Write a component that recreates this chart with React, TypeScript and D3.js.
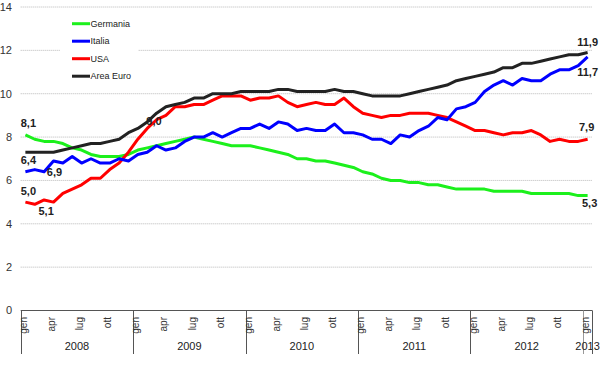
import React from 'react';
import * as d3 from 'd3';

// monthly unemployment rate, gen 2008 - gen 2013
const germania = [
  8.1, 7.9, 7.8, 7.8, 7.7, 7.5, 7.4, 7.2, 7.1, 7.1, 7.1, 7.2,
  7.4, 7.5, 7.6, 7.7, 7.8, 7.9, 8.0, 7.9, 7.8, 7.7, 7.6, 7.6,
  7.6, 7.5, 7.4, 7.3, 7.2, 7.0, 7.0, 6.9, 6.9, 6.8, 6.7, 6.6,
  6.4, 6.3, 6.1, 6.0, 6.0, 5.9, 5.9, 5.8, 5.8, 5.7, 5.6, 5.6,
  5.6, 5.6, 5.5, 5.5, 5.5, 5.5, 5.4, 5.4, 5.4, 5.4, 5.4, 5.3,
  5.3,
];
const italia = [
  6.4, 6.5, 6.4, 6.9, 6.8, 7.1, 6.8, 7.0, 6.8, 6.8, 7.0, 6.9,
  7.2, 7.3, 7.6, 7.4, 7.5, 7.8, 8.0, 8.0, 8.2, 8.0, 8.2, 8.4,
  8.4, 8.6, 8.4, 8.7, 8.6, 8.3, 8.4, 8.3, 8.3, 8.6, 8.2, 8.2,
  8.1, 7.9, 7.9, 7.7, 8.1, 8.0, 8.3, 8.5, 8.9, 8.8, 9.3, 9.4,
  9.6, 10.1, 10.4, 10.6, 10.4, 10.7, 10.6, 10.6, 10.9, 11.1, 11.1, 11.3,
  11.7,
];
const usa = [
  5.0, 4.9, 5.1, 5.0, 5.4, 5.6, 5.8, 6.1, 6.1, 6.5, 6.8, 7.3,
  7.9, 8.4, 8.8, 9.0, 9.4, 9.4, 9.5, 9.5, 9.7, 9.9, 9.9, 9.9,
  9.7, 9.8, 9.8, 9.9, 9.6, 9.4, 9.5, 9.6, 9.5, 9.5, 9.8, 9.4,
  9.1, 9.0, 8.9, 9.0, 9.0, 9.1, 9.1, 9.1, 9.0, 8.9, 8.7, 8.5,
  8.3, 8.3, 8.2, 8.1, 8.2, 8.2, 8.3, 8.1, 7.8, 7.9, 7.8, 7.8,
  7.9,
];
const areaEuro = [
  7.3, 7.3, 7.3, 7.3, 7.4, 7.5, 7.6, 7.7, 7.7, 7.8, 7.9, 8.2,
  8.4, 8.7, 9.1, 9.4, 9.5, 9.6, 9.8, 9.8, 10.0, 10.0, 10.0, 10.1,
  10.1, 10.1, 10.1, 10.2, 10.2, 10.1, 10.1, 10.1, 10.1, 10.2, 10.1, 10.1,
  10.0, 9.9, 9.9, 9.9, 9.9, 10.0, 10.1, 10.2, 10.3, 10.4, 10.6, 10.7,
  10.8, 10.9, 11.0, 11.2, 11.2, 11.4, 11.4, 11.5, 11.6, 11.7, 11.8, 11.8,
  11.9,
];

const years = ['2008', '2009', '2010', '2011', '2012', '2013'];
const monthLabels = ['gen', 'apr', 'lug', 'ott'];
const yTicks = [0, 2, 4, 6, 8, 10, 12, 14];

const series = [
  { name: 'Germania', values: germania, color: '#1cf01c' },
  { name: 'USA', values: usa, color: '#ff0000' },
  { name: 'Italia', values: italia, color: '#0000ff' },
  { name: 'Area Euro', values: areaEuro, color: '#222222' },
];
const legendOrder = ['Germania', 'Italia', 'USA', 'Area Euro'];

// point labels: series, month index, offset from the point
const pointLabels = [
  { s: 'Germania', i: 0, dx: 3, dy: -8 },
  { s: 'Italia', i: 0, dx: 3, dy: -8 },
  { s: 'Italia', i: 3, dx: 1, dy: 15 },
  { s: 'USA', i: 0, dx: 3, dy: -7 },
  { s: 'USA', i: 2, dx: 2, dy: 15 },
  { s: 'USA', i: 15, dx: -12, dy: 10 },
  { s: 'Area Euro', i: 60, dx: 0, dy: -7 },
  { s: 'Italia', i: 60, dx: 0, dy: 19 },
  { s: 'USA', i: 60, dx: -1, dy: -8 },
  { s: 'Germania', i: 60, dx: 2, dy: 11 },
];

const W = 600;
const H = 365;
const left = 20.7;
const right = 592.3;
const top = 7;
const bottom = 310.5;
const font = '"Liberation Sans", Arial, sans-serif';

const App = () => {
  const n = germania.length;
  const x = d3.scaleBand<number>().domain(d3.range(n)).range([left, right]).padding(0);
  const cx = (i: number) => (x(i) as number) + x.bandwidth() / 2;
  const y = d3.scaleLinear().domain([0, 14]).range([bottom, top]);
  const line = d3.line<number>().x((d, i) => cx(i)).y(d => y(d));
  const fmt = (v: number) => v.toFixed(1).replace('.', ',');

  return (
    <div style={{ position: 'fixed', left: 0, top: 0 }}>
      <svg width={W} height={H} style={{ display: 'block', background: '#fff' }} fontFamily={font}>
        {/* grid */}
        {yTicks.filter(t => t > 0).map(t => (
          <line key={t} x1={left} x2={right} y1={y(t)} y2={y(t)}
            stroke="#b8b8b8" strokeWidth={1} strokeDasharray="1,1" />
        ))}
        {yTicks.map(t => (
          <text key={t} x={12} y={y(t)} dy="0.35em" textAnchor="end" fontSize={11} fill="#333">{t}</text>
        ))}

        {/* legend box */}
        <rect x={60} y={11} width={78} height={75} fill="#fff" />
        {legendOrder.map((name, k) => {
          const s = series.find(d => d.name === name)!;
          const ly = 23.7 + k * 17.5;
          return (
            <g key={name}>
              <line x1={72} x2={90} y1={ly} y2={ly} stroke={s.color} strokeWidth={3} />
              <text x={90.5} y={ly} dy="0.35em" fontSize={9} fill="#222">{name}</text>
            </g>
          );
        })}

        {/* x axis */}
        <line x1={left} x2={right} y1={bottom} y2={bottom} stroke="#555" strokeWidth={1} />
        {years.map((yr, k) => {
          const x0 = cx(k * 12) - x.bandwidth() / 2;
          const months = k < years.length - 1 ? 12 : 1;
          const x1 = x0 + months * x.bandwidth();
          return (
            <g key={yr}>
              <line x1={Math.round(x0) + 0.5} x2={Math.round(x0) + 0.5} y1={bottom} y2={354}
                stroke={k === 5 ? '#999' : '#555'} strokeWidth={1} />
              <text x={(x0 + x1) / 2} y={350} textAnchor="middle" fontSize={11} fill="#222">{yr}</text>
            </g>
          );
        })}
        <line x1={Math.round(right) + 0.5} x2={Math.round(right) + 0.5} y1={bottom} y2={354} stroke="#555" strokeWidth={1} />
        {d3.range(0, n, 3).map(i => (
          <text key={i} transform={`translate(${cx(i) + 1.5},317) rotate(-90)`}
            textAnchor="end" fontSize={10} fill="#333">{monthLabels[(i % 12) / 3]}</text>
        ))}

        {/* series */}
        {series.map(s => (
          <path key={s.name} d={line(s.values) || ''} fill="none" stroke={s.color}
            strokeWidth={3} strokeLinejoin="round" />
        ))}

        {/* value labels */}
        {pointLabels.map((p, k) => {
          const s = series.find(d => d.name === p.s)!;
          const v = s.values[p.i];
          return (
            <text key={k} x={cx(p.i) + p.dx} y={y(v) + p.dy} textAnchor="middle"
              fontSize={11} fontWeight="bold" fill="#222">{fmt(v)}</text>
          );
        })}
      </svg>
    </div>
  );
};

export default App;
